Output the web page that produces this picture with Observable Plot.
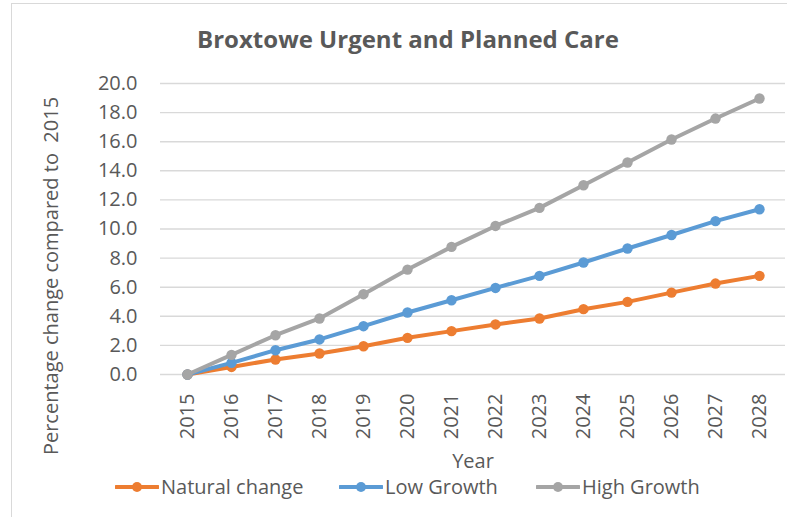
<!DOCTYPE html>
<html>
<head>
<meta charset="utf-8">
<script src="https://cdn.jsdelivr.net/npm/d3@7"></script>
<script src="https://cdn.jsdelivr.net/npm/@observablehq/plot@0.6"></script>
<style>
  html, body { margin: 0; padding: 0; background: #fff; }
  body { width: 787px; height: 517px; overflow: hidden; position: relative; font-family: "Open Sans", sans-serif; color: #595959; }
  #frame { position: absolute; left: 11px; top: 3px; width: 800px; height: 540px; border: 1px solid #d9d9d9; box-sizing: border-box; }
  #title { position: absolute; left: 0; width: 816px; top: 24px; text-align: center; font-weight: bold; font-size: 24px; line-height: 30px; }
  #chart { position: absolute; left: 0; top: 60px; }
  #legend { position: absolute; top: 472px; left: 0; width: 787px; height: 30px; }
  .item { position: absolute; top: 0; display: flex; align-items: center; font-size: 20px; line-height: 30px; }
  .item svg { display: block; margin-right: 2px; }
</style>
</head>
<body>
<div id="frame"></div>
<div id="title"></div>
<div id="chart"></div>
<div id="legend"></div>
<script>
const chartTitle = "Broxtowe Urgent and Planned Care";
const xTitle = "Year";
const yTitle = "Percentage change compared to  2015";
const years = ["2015","2016","2017","2018","2019","2020","2021","2022","2023","2024","2025","2026","2027","2028"];
const seriesNames = ["Natural change", "Low Growth", "High Growth"];
const seriesColors = ["#ED7D31", "#5B9BD5", "#A5A5A5"];
const naturalChange = [0, 0.52, 1.03, 1.44, 1.94, 2.52, 2.98, 3.44, 3.85, 4.49, 4.99, 5.63, 6.25, 6.78];
const lowGrowth = [0, 0.80, 1.67, 2.41, 3.32, 4.26, 5.10, 5.95, 6.78, 7.70, 8.66, 9.59, 10.54, 11.36];
const highGrowth = [0, 1.35, 2.70, 3.85, 5.52, 7.21, 8.77, 10.21, 11.45, 13.01, 14.57, 16.15, 17.59, 18.97];
const yTicks = [0, 2, 4, 6, 8, 10, 12, 14, 16, 18, 20];
const legendX = [115, 339, 536];

document.getElementById("title").textContent = chartTitle;

const seriesValues = [naturalChange, lowGrowth, highGrowth];
const seriesData = seriesNames.map((name, k) =>
  years.map((year, i) => ({ year, value: seriesValues[k][i], series: name }))
);

const seriesMarks = seriesData.flatMap(d => [
  Plot.line(d, { x: "year", y: "value", stroke: "series", strokeWidth: 4, strokeLinejoin: "round" }),
  Plot.dot(d, { x: "year", y: "value", fill: "series", r: 5.2, stroke: "none" })
]);

const chart = Plot.plot({
  width: 787,
  height: 410,
  marginTop: 23,
  marginBottom: 96,
  marginLeft: 160,
  marginRight: 2,
  style: { fontFamily: "Open Sans, sans-serif", fontSize: "20px", color: "#595959", background: "transparent", overflow: "visible" },
  x: { type: "point", domain: years, padding: 0.5 },
  y: { domain: [0, 20] },
  color: { domain: seriesNames, range: seriesColors },
  marks: [
    Plot.gridY(yTicks, { stroke: "#d9d9d9", strokeOpacity: 1, strokeWidth: 1.4 }),
    Plot.axisY(yTicks, { tickSize: 0, tickPadding: 23, tickFormat: d => d.toFixed(1), label: null, fontSize: 20 }),
    Plot.axisX({ tickSize: 0, tickPadding: 19, tickRotate: -90, label: null, fontSize: 20 }),
    ...seriesMarks,
    Plot.text([xTitle], { frameAnchor: "bottom", dy: 93, fontSize: 20, fill: "#595959", textAnchor: "middle" }),
    Plot.text([yTitle], { frameAnchor: "left", dx: -109, dy: 47, rotate: -90, fontSize: 20, fill: "#595959", textAnchor: "middle" })
  ]
});
document.getElementById("chart").appendChild(chart);

const legend = document.getElementById("legend");
seriesNames.forEach((name, k) => {
  const item = document.createElement("div");
  item.className = "item";
  item.style.left = legendX[k] + "px";
  item.innerHTML = `<svg width="44" height="12"><line x1="1" x2="43" y1="6" y2="6" stroke="${seriesColors[k]}" stroke-width="4" stroke-linecap="round"/><circle cx="22" cy="6" r="5" fill="${seriesColors[k]}"/></svg><span>${name}</span>`;
  legend.appendChild(item);
});
</script>
</body>
</html>
